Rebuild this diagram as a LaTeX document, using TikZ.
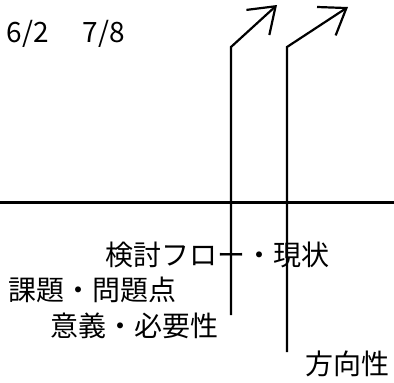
\documentclass[tikz,border=0pt]{standalone}
\usepackage{fontspec}
\newfontfamily\jpfont{Noto Sans CJK JP}
\usetikzlibrary{arrows.meta}
\tikzset{
  lbl/.style={anchor=west, inner sep=0pt, font=\jpfont\fontsize{28}{28}\selectfont},
  datelbl/.style={anchor=west, inner sep=0pt, font=\jpfont\fontsize{28}{28}\selectfont},
  flow/.style={line width=2.2pt, -{Straight Barb[length=24pt, width=34pt, line width=2.2pt]}},
  baseline/.style={line width=3pt}
}
\begin{document}
\begin{tikzpicture}[x=1pt,y=-1pt]
\useasboundingbox (0,0) rectangle (394,383);
\node[datelbl] (date) at (6.5,34) {6/2\hspace{34pt}7/8};
\coordinate (hl) at (0,202);
\coordinate (hr) at (394,202);
\draw[baseline] (hl) -- (hr);
\coordinate (a1s) at (231,315);
\coordinate (a1k) at (231,47);
\coordinate (a1e) at (277,5);
\coordinate (a2s) at (287,352);
\coordinate (a2k) at (287,47);
\coordinate (a2e) at (348,7);
\draw[flow] (a1s) -- (a1k) -- (a1e);
\draw[flow] (a2s) -- (a2k) -- (a2e);
\node[lbl] (t1) at (105.5,254.5) {検討フロー・現状};
\node[lbl] (t2) at (8.5,290) {課題・問題点};
\node[lbl] (t3) at (50.5,326) {意義・必要性};
\node[lbl] (t4) at (305.5,363.5) {方向性};
\end{tikzpicture}
\end{document}
